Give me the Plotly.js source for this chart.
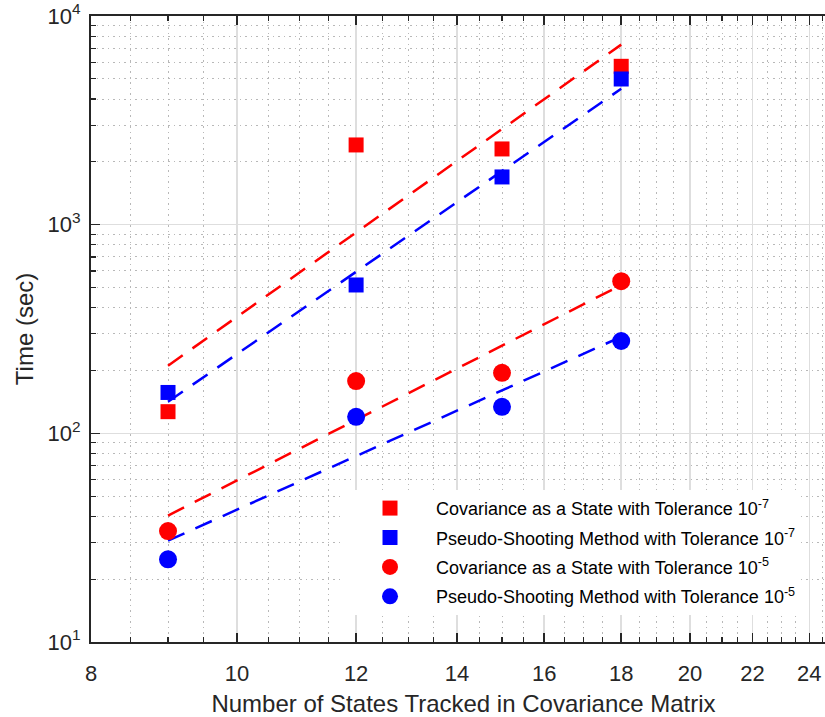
<!DOCTYPE html>
<html>
<head>
<meta charset="utf-8">
<script src="https://cdn.plot.ly/plotly-3.0.1.min.js"></script>
<style>
html,body{margin:0;padding:0;overflow:hidden;background:#fff;}
#chart{width:846px;height:717px;}
</style>
</head>
<body>
<div id="chart"></div>
<script>
// ---- data ----
const states = [9, 12, 15, 18];
const covState_tol7 = [127, 2410, 2306, 5740];
const pseudo_tol7   = [157, 514, 1693, 4990];
const covState_tol5 = [34.0, 178, 195, 536];
const pseudo_tol5   = [24.9, 120, 134, 277];

const seriesNames = [
  'Covariance as a State with Tolerance 10<sup>-7</sup>',
  'Pseudo-Shooting Method with Tolerance 10<sup>-7</sup>',
  'Covariance as a State with Tolerance 10<sup>-5</sup>',
  'Pseudo-Shooting Method with Tolerance 10<sup>-5</sup>'
];
const xTickVals = [8, 10, 12, 14, 16, 18, 20, 22, 24];
const yTickVals = [10, 100, 1000, 10000];
const yTickText = ['10<sup>1</sup>', '10<sup>2</sup>', '10<sup>3</sup>', '10<sup>4</sup>'];

// ---- helpers ----
function powerFit(xs, ys) {
  const lx = xs.map(Math.log10), ly = ys.map(Math.log10);
  const n = lx.length;
  const mx = lx.reduce((a, b) => a + b, 0) / n;
  const my = ly.reduce((a, b) => a + b, 0) / n;
  let sxy = 0, sxx = 0;
  for (let i = 0; i < n; i++) { sxy += (lx[i] - mx) * (ly[i] - my); sxx += (lx[i] - mx) ** 2; }
  const b = sxy / sxx, a = my - b * mx;
  const xe = [Math.min(...xs), Math.max(...xs)];
  return { x: xe, y: xe.map(v => Math.pow(10, a + b * Math.log10(v))) };
}

const RED = '#ff0000', BLUE = '#0000ff';
const series = [
  { y: covState_tol7, color: RED,  symbol: 'square', size: 15 },
  { y: pseudo_tol7,   color: BLUE, symbol: 'square', size: 15 },
  { y: covState_tol5, color: RED,  symbol: 'circle', size: 18 },
  { y: pseudo_tol5,   color: BLUE, symbol: 'circle', size: 18 }
];

const traces = [];
series.forEach(s => {
  const f = powerFit(states, s.y);
  traces.push({
    x: f.x, y: f.y, mode: 'lines', type: 'scatter', showlegend: false, hoverinfo: 'skip',
    line: { color: s.color, width: 2.5, dash: '18px,12px' }
  });
});
series.forEach((s, i) => {
  traces.push({
    x: states, y: s.y, mode: 'markers', type: 'scatter', name: seriesNames[i],
    legendgroup: 'g' + i,
    marker: { color: s.color, symbol: s.symbol, size: s.size, line: { width: 0 } }
  });
});

// minor ticks
const xMinor = [];
for (let v = 8.5; v <= 25; v += 0.5) { if (v % 2 !== 0) xMinor.push(v); }
const yMinor = [];
[10, 100, 1000].forEach(d => { for (let k = 2; k <= 9; k++) yMinor.push(k * d); });

const FONT = 'Liberation Sans, Arial, Helvetica, sans-serif';
const INK = '#262626';

const layout = {
  width: 846, height: 717,
  margin: { l: 91, r: 10, t: 16, b: 75 },
  paper_bgcolor: '#ffffff', plot_bgcolor: '#ffffff',
  font: { family: FONT, color: INK, size: 22 },
  showlegend: true,
  legend: {
    x: 0.3396, y: 0.243, xanchor: 'left', yanchor: 'top',
    bgcolor: '#ffffff', borderwidth: 0,
    font: { family: FONT, size: 18, color: '#000000' },
    itemwidth: 82, tracegroupgap: 3, traceorder: 'grouped'
  },
  xaxis: {
    type: 'log', range: [Math.log10(8), Math.log10(25)],
    tickmode: 'array', tickvals: xTickVals, ticktext: xTickVals.map(String),
    ticks: 'inside', ticklen: 9, tickwidth: 1.5, tickcolor: INK,
    showline: true, linecolor: INK, linewidth: 2, mirror: 'ticks',
    showgrid: true, gridcolor: '#dedede', gridwidth: 1.5,
    zeroline: false, ticklabelstandoff: 11,
    tickfont: { size: 22, color: INK, family: FONT },
    minor: { tickmode: 'array', tickvals: xMinor, ticks: 'inside', ticklen: 5, tickwidth: 1.2, tickcolor: INK,
             showgrid: true, gridcolor: '#b8b8b8', gridwidth: 1, griddash: '1.5px,4px' },
    title: { text: 'Number of States Tracked in Covariance Matrix', font: { size: 24, color: INK, family: FONT }, standoff: 10 }
  },
  yaxis: {
    type: 'log', range: [1, 4],
    tickmode: 'array', tickvals: yTickVals, ticktext: yTickText,
    ticks: 'inside', ticklen: 9, tickwidth: 1.5, tickcolor: INK,
    showline: true, linecolor: INK, linewidth: 2, mirror: 'ticks',
    showgrid: true, gridcolor: '#dedede', gridwidth: 1.5,
    zeroline: false, ticklabelstandoff: 4,
    tickfont: { size: 22, color: INK, family: FONT },
    minor: { tickmode: 'array', tickvals: yMinor, ticks: 'inside', ticklen: 5, tickwidth: 1.2, tickcolor: INK,
             showgrid: true, gridcolor: '#b8b8b8', gridwidth: 1, griddash: '1.5px,4px' },
    title: { text: 'Time (sec)', font: { size: 24, color: INK, family: FONT }, standoff: 7 }
  }
};

Plotly.newPlot('chart', traces, layout, { displayModeBar: false, staticPlot: true });
</script>
</body>
</html>
